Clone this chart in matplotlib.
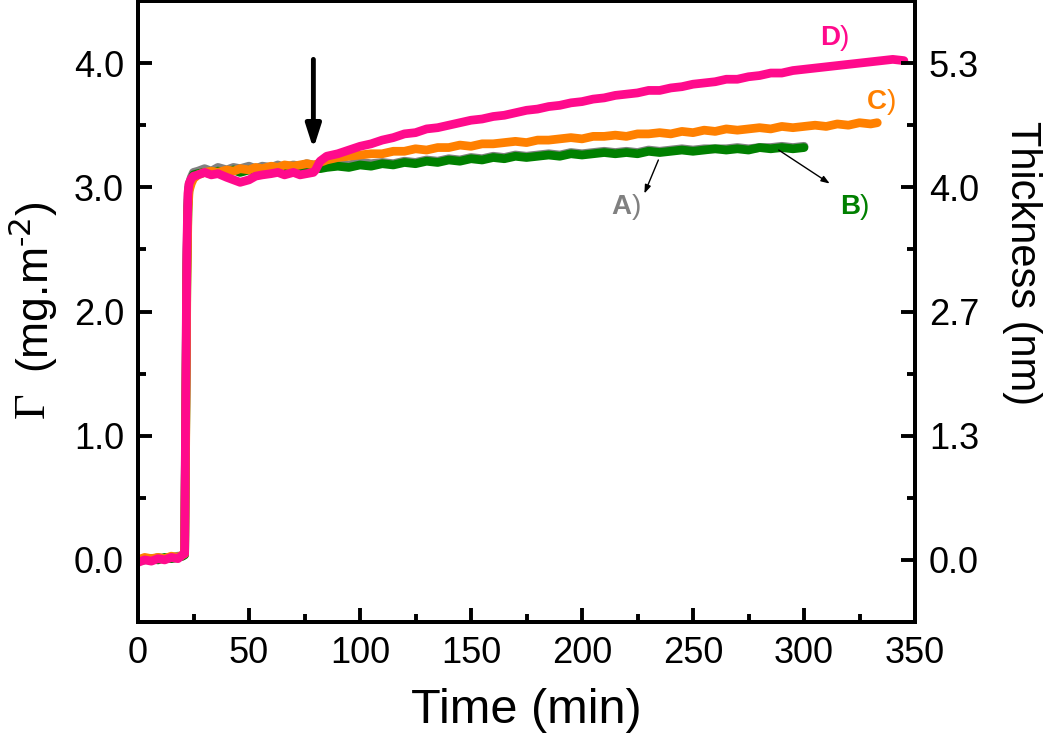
import matplotlib
matplotlib.use("Agg")
import matplotlib.pyplot as plt
import numpy as np

# ---------------- data ----------------
t_early = [0, 3, 6, 9, 12, 15, 18, 20, 21, 21.5, 22, 22.5, 23, 24, 25, 27, 30, 33, 36, 40, 43, 46, 50, 53, 56, 60, 63, 66, 70, 73, 76, 79]

A_early = [0.00, 0.01, 0.00, 0.02, 0.01, 0.02, 0.03, 0.03, 0.05, 1.20, 2.40, 2.90, 3.02, 3.08, 3.12, 3.13, 3.15, 3.13, 3.16, 3.14, 3.16, 3.15, 3.17, 3.15, 3.17, 3.16, 3.18, 3.16, 3.18, 3.17, 3.19, 3.18]
B_early = [-0.01, 0.00, 0.01, 0.00, 0.02, 0.01, 0.02, 0.03, 0.04, 1.10, 2.30, 2.85, 3.00, 3.06, 3.10, 3.11, 3.12, 3.11, 3.13, 3.12, 3.14, 3.12, 3.14, 3.13, 3.15, 3.14, 3.15, 3.14, 3.16, 3.15, 3.16, 3.16]
C_early = [0.00, 0.02, 0.01, 0.02, 0.01, 0.03, 0.02, 0.04, 0.05, 1.00, 2.20, 2.80, 2.97, 3.03, 3.07, 3.10, 3.12, 3.13, 3.12, 3.14, 3.13, 3.15, 3.14, 3.16, 3.15, 3.17, 3.16, 3.18, 3.17, 3.18, 3.19, 3.18]
D_early = [-0.02, 0.00, -0.01, 0.01, 0.00, 0.02, 0.01, 0.04, 0.05, 1.30, 2.50, 2.95, 3.03, 3.07, 3.09, 3.10, 3.12, 3.10, 3.11, 3.08, 3.06, 3.04, 3.06, 3.09, 3.10, 3.11, 3.12, 3.10, 3.12, 3.10, 3.11, 3.12]

t_late = [80, 82, 85, 90, 95, 100, 105, 110, 115, 120, 125, 130, 135, 140, 145, 150, 155, 160, 165, 170,
          175, 180, 185, 190, 195, 200, 205, 210, 215, 220, 225, 230, 235, 240, 245, 250, 255, 260, 265, 270,
          275, 280, 285, 290, 295, 300, 305, 310, 315, 320, 325, 330, 335, 340, 345]

A_late = [3.18, 3.17, 3.18, 3.19, 3.18, 3.20, 3.19, 3.20, 3.19, 3.21, 3.20, 3.22, 3.21, 3.23, 3.22, 3.24, 3.23, 3.25, 3.24, 3.26,
          3.25, 3.26, 3.27, 3.26, 3.28, 3.27, 3.28, 3.29, 3.28, 3.29, 3.28, 3.30, 3.29, 3.30, 3.31, 3.30, 3.31, 3.31, 3.31, 3.32,
          3.31, 3.32, 3.32, 3.33, 3.32, 3.33]
B_late = [3.16, 3.15, 3.16, 3.17, 3.16, 3.18, 3.17, 3.19, 3.18, 3.20, 3.19, 3.21, 3.20, 3.22, 3.21, 3.23, 3.22, 3.24, 3.23, 3.25,
          3.24, 3.25, 3.26, 3.25, 3.27, 3.26, 3.27, 3.28, 3.27, 3.28, 3.27, 3.29, 3.28, 3.29, 3.30, 3.29, 3.30, 3.31, 3.30, 3.31,
          3.30, 3.32, 3.31, 3.32, 3.31, 3.32]
C_late = [3.18, 3.20, 3.22, 3.24, 3.25, 3.26, 3.27, 3.27, 3.29, 3.29, 3.31, 3.30, 3.32, 3.32, 3.34, 3.33, 3.35, 3.35, 3.36, 3.37,
          3.36, 3.38, 3.38, 3.39, 3.40, 3.39, 3.41, 3.41, 3.42, 3.41, 3.43, 3.43, 3.44, 3.43, 3.45, 3.44, 3.46, 3.45, 3.47, 3.46,
          3.47, 3.48, 3.47, 3.49, 3.48, 3.49, 3.50, 3.49, 3.51, 3.50, 3.52, 3.51, 3.52]
D_late = [3.14, 3.21, 3.25, 3.27, 3.30, 3.33, 3.35, 3.38, 3.40, 3.43, 3.44, 3.47, 3.48, 3.50, 3.52, 3.54, 3.55, 3.57, 3.58, 3.60,
          3.62, 3.63, 3.65, 3.66, 3.68, 3.69, 3.71, 3.72, 3.74, 3.75, 3.76, 3.78, 3.78, 3.80, 3.81, 3.83, 3.84, 3.85, 3.87, 3.87,
          3.89, 3.90, 3.92, 3.92, 3.94, 3.95, 3.96, 3.97, 3.98, 3.99, 4.00, 4.01, 4.02, 4.03, 4.02]
C_end_t = 333

left_ticks = [0.0, 1.0, 2.0, 3.0, 4.0]
left_labels = ["0.0", "1.0", "2.0", "3.0", "4.0"]
right_labels = ["0.0", "1.3", "2.7", "4.0", "5.3"]
x_ticks = [0, 50, 100, 150, 200, 250, 300, 350]

series = [
    ("A", "#808080", A_early, A_late),
    ("B", "#008000", B_early, B_late),
    ("C", "#FF8000", C_early, C_late),
    ("D", "#FF0A8C", D_early, D_late),
]

# ---------------- figure ----------------
plt.rcParams['font.family'] = ['Liberation Sans', 'DejaVu Sans']
fig = plt.figure(figsize=(10.5, 7.48), dpi=100)
ax = fig.add_axes([138/1050, 1 - 622/748, (915-138)/1050, (622-1)/748])

for name, col, early, late in series:
    tl = list(t_late[:len(late)])
    if name == "C":
        tl[-1] = C_end_t
    ax.plot(list(t_early) + tl, list(early) + list(late), color=col, lw=6.3,
            solid_joinstyle='round', solid_capstyle='round', zorder=2)

ax.set_xlim(0, 350)
ax.set_ylim(-0.5, 4.5)
ax.set_xticks(x_ticks)
ax.set_xticks(np.arange(25, 350, 50), minor=True)
ax.set_yticks(left_ticks)
ax.set_yticklabels(left_labels)
ax.set_yticks(np.arange(0.5, 4.5, 1.0), minor=True)

for s in ax.spines.values():
    s.set_linewidth(2.8)
ax.tick_params(which='both', direction='in', width=2.8, labelsize=26, top=False)
ax.tick_params(which='major', length=10)
ax.tick_params(which='minor', length=5.5)
ax.tick_params(axis='y', pad=10)
ax.tick_params(axis='x', pad=10)

ax2 = ax.twinx()
ax2.set_ylim(ax.get_ylim())
ax2.set_yticks(left_ticks)
ax2.set_yticklabels(right_labels)
ax2.set_yticks(np.arange(0.5, 4.5, 1.0), minor=True)
ax2.tick_params(which='both', direction='in', width=2.8, labelsize=26, pad=10)
ax2.tick_params(which='major', length=10)
ax2.tick_params(which='minor', length=5.5)
for s in ax2.spines.values():
    s.set_linewidth(2.8)

ax.set_xlabel("Time (min)", fontsize=35, labelpad=12)

# left label: serif Gamma + sans unit with small hyphen superscript
fig.text(33/1050, 1 - 405/748, "\u0393", rotation=90, fontsize=32,
         family=['Liberation Serif', 'DejaVu Serif'], ha='center', va='center')
fig.text(33/1050, 1 - 287/748, "(mg.m$^{\\mathregular{\u2010}2}$)", rotation=90, fontsize=32,
         ha='center', va='center')
fig.text(1022/1050, 1 - 263/748, "Thickness (nm)", rotation=270, fontsize=30,
         ha='center', va='center')

# arrow marking the switch
ax.annotate("", xy=(79, 3.31), xytext=(79, 4.03),
            arrowprops=dict(arrowstyle='-|>,head_length=1.4,head_width=0.45',
                            color='black', lw=3.5, shrinkA=0, shrinkB=0))

# series labels
labels = [("A", "#808080", 222.2, 2.84), ("B", "#008000", 325.2, 2.84),
          ("C", "#FF8000", 337.4, 3.69), ("D", "#FF0A8C", 316.2, 4.20)]
for lab, col, lx, ly in labels:
    ax.text(lx, ly, lab, color=col, fontsize=20, fontweight='bold', ha='right', va='center')
    ax.text(lx, ly, ")", color=col, fontsize=20, ha='left', va='center')

ax.annotate("", xy=(228.1, 2.95), xytext=(234.4, 3.22),
            arrowprops=dict(arrowstyle='-|>,head_length=0.5,head_width=0.18',
                            color='black', lw=1.0, shrinkA=0, shrinkB=0))
ax.annotate("", xy=(311.6, 3.03), xytext=(288.6, 3.30),
            arrowprops=dict(arrowstyle='-|>,head_length=0.5,head_width=0.18',
                            color='black', lw=1.0, shrinkA=0, shrinkB=0))

fig.savefig("out.png", dpi=100)
